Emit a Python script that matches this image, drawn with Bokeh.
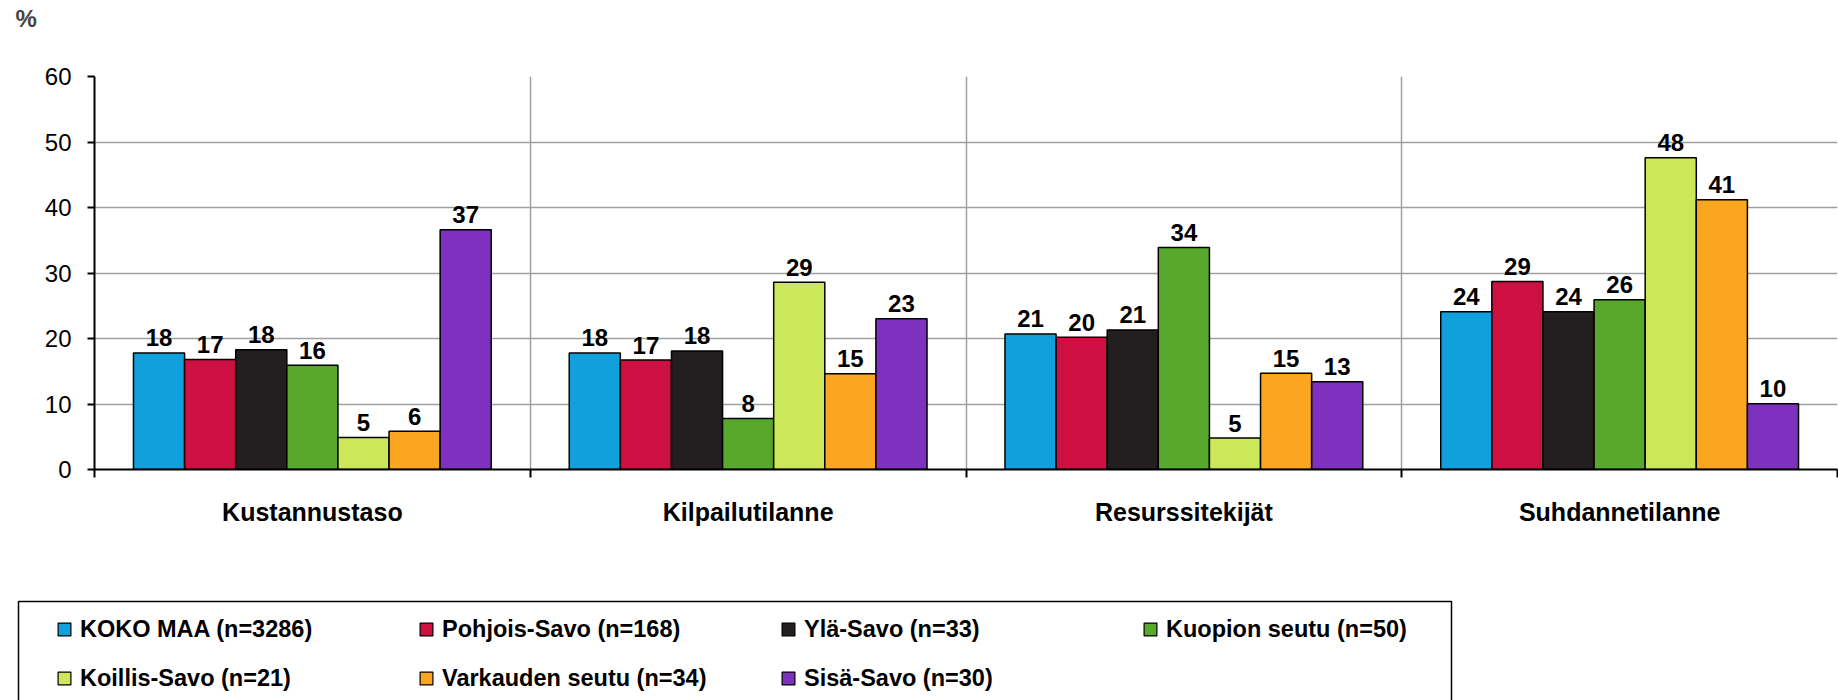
from bokeh.plotting import figure
from bokeh.models import (Range1d, FixedTicker, ColumnDataSource, Legend, LegendItem,
                          BoxAnnotation)
from bokeh.layouts import column
from bokeh.transform import dodge
from bokeh.core.properties import value
from bokeh.embed import file_html
from bokeh.resources import INLINE

# ---------------- data ----------------
categories = ["Kustannustaso", "Kilpailutilanne", "Resurssitekijät", "Suhdannetilanne"]
series_names = ["KOKO MAA (n=3286)", "Pohjois-Savo (n=168)", "Ylä-Savo (n=33)",
                "Kuopion seutu (n=50)", "Koillis-Savo (n=21)", "Varkauden seutu (n=34)",
                "Sisä-Savo (n=30)"]
colors = ["#10A0DB", "#CD1041", "#231F20", "#58A82E", "#CCE85A", "#FBA521", "#7E30BF"]

koko_maa        = [17.8, 17.8, 20.7, 24.1]
pohjois_savo    = [16.8, 16.7, 20.2, 28.7]
yla_savo        = [18.3, 18.1, 21.3, 24.1]
kuopion_seutu   = [15.9, 7.8, 33.9, 25.9]
koillis_savo    = [4.9, 28.6, 4.8, 47.6]
varkauden_seutu = [5.85, 14.6, 14.7, 41.2]
sisa_savo       = [36.6, 23.0, 13.4, 10.05]
series_values = [koko_maa, pohjois_savo, yla_savo, kuopion_seutu,
                 koillis_savo, varkauden_seutu, sisa_savo]

y_ticks = [0, 10, 20, 30, 40, 50, 60]

# ---------------- main figure ----------------
FONT = "Liberation Sans"
W = 1838
H_TOP = 565
H_LEG = 700 - H_TOP
n_cat = len(categories)
centers = [i + 0.5 for i in range(n_cat)]
boundaries = list(range(n_cat + 1))

p = figure(width=W, height=H_TOP, x_range=Range1d(0, n_cat), y_range=Range1d(0, 60),
           output_backend="svg", toolbar_location=None,
           min_border_left=94, min_border_right=1, min_border_top=76, min_border_bottom=96)
p.frame_align = False
p.outline_line_color = None
p.background_fill_color = "white"

# "%" unit label (a blank second line lifts it to the top of the border)
p.title.text = "%\n\u00a0"
p.title.align = "left"
p.title.vertical_align = "top"
p.title.offset = -79
p.title.standoff = 0
p.title.text_line_height = 1.6
p.title.text_font = FONT
p.title.text_font_style = "bold"
p.title.text_font_size = "24px"

# axes
p.xaxis.ticker = FixedTicker(ticks=centers, minor_ticks=boundaries)
p.xaxis.major_label_overrides = {c: name for c, name in zip(centers, categories)}
p.xaxis.major_tick_out = 0
p.xaxis.major_tick_in = 0
p.xaxis.minor_tick_out = 8
p.xaxis.minor_tick_in = 0
p.xaxis.minor_tick_line_color = "black"
p.xaxis.minor_tick_line_width = 2
p.xaxis.axis_line_color = "black"
p.xaxis.axis_line_width = 2
p.xaxis.major_label_text_font = FONT
p.xaxis.major_label_text_font_style = "bold"
p.xaxis.major_label_text_font_size = "25px"
p.xaxis.major_label_text_color = "black"
p.xaxis.major_label_standoff = 20

p.yaxis.ticker = FixedTicker(ticks=y_ticks)
p.yaxis.major_tick_out = 7
p.yaxis.major_tick_in = 0
p.yaxis.minor_tick_out = 0
p.yaxis.minor_tick_in = 0
p.yaxis.major_tick_line_color = "black"
p.yaxis.major_tick_line_width = 2
p.yaxis.axis_line_color = "black"
p.yaxis.axis_line_width = 2
p.yaxis.major_label_text_font = FONT
p.yaxis.major_label_text_font_size = "24px"
p.yaxis.major_label_text_color = "black"
p.yaxis.major_label_standoff = 16

# grids
p.xgrid.ticker = FixedTicker(ticks=boundaries)
p.xgrid.grid_line_color = "#A0A0A0"
p.xgrid.grid_line_width = 1.5
p.ygrid.grid_line_color = "#A0A0A0"
p.ygrid.grid_line_width = 1.5

# bars and value labels
bar_w = 0.1173
n_ser = len(series_names)
data = {"xc": centers}
for j, vals in enumerate(series_values):
    data[f"s{j}"] = vals
    data[f"l{j}"] = [str(int(round(v))) for v in vals]
src = ColumnDataSource(data)

for j in range(n_ser):
    off = (j - (n_ser - 1) / 2) * bar_w
    p.vbar(x=dodge("xc", off, range=p.x_range), top=f"s{j}", bottom=0, width=bar_w,
           source=src, fill_color=colors[j], line_color="black", line_width=1.5)
    p.text(x=dodge("xc", off, range=p.x_range), y=f"s{j}", text=f"l{j}", source=src,
           text_align="center", text_baseline="alphabetic", y_offset=-15,
           text_font=value(FONT), text_font_style="bold", text_font_size="24px",
           text_color="black")

# ---------------- legend strip ----------------
p2 = figure(width=W, height=H_LEG, x_range=Range1d(0, W), y_range=Range1d(0, H_LEG),
            output_backend="svg", toolbar_location=None,
            min_border_left=0, min_border_right=0, min_border_top=0, min_border_bottom=0)
p2.frame_align = False
p2.axis.visible = False
p2.grid.visible = False
p2.outline_line_color = None

legend_renderers = []
for j in range(n_ser):
    # swatch renderer: its single point lies outside the visible ranges
    r = p2.scatter(x=[-100], y=[-100], marker="square", size=13, fill_color=colors[j],
                   line_color="black", line_width=1.2)
    legend_renderers.append(r)

legend = Legend(items=[LegendItem(label=name, renderers=[r])
                       for name, r in zip(series_names, legend_renderers)],
                orientation="horizontal", ncols=4, location="top_left", margin=48,
                glyph_width=32, glyph_height=32, label_height=32, label_width=313,
                label_standoff=-4, spacing=17, padding=0,
                border_line_alpha=0, background_fill_alpha=0,
                label_text_font=FONT, label_text_font_style="bold",
                label_text_font_size="23.5px", label_text_color="black")
p2.add_layout(legend, "center")

box = BoxAnnotation(left=18, right=1451, top=H_LEG - (601 - H_TOP), bottom=-20,
                    fill_alpha=0, line_color="black", line_alpha=1, line_width=1.5)
p2.add_layout(box)

layout = column(p, p2, spacing=0)
open("out.html", "w").write(file_html(layout, INLINE))
